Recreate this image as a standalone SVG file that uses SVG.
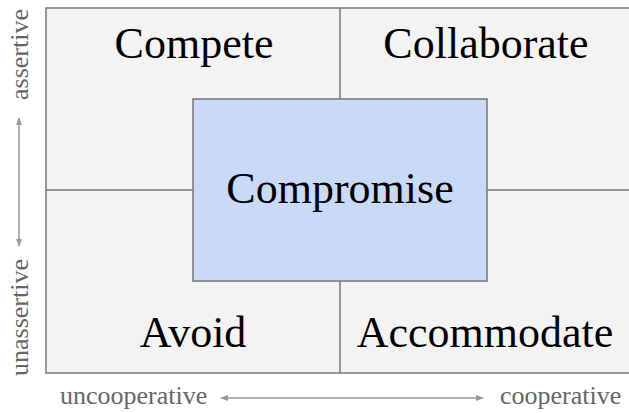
<svg xmlns="http://www.w3.org/2000/svg" width="629" height="413" viewBox="0 0 629 413">
<style>
.main{font-family:"Liberation Serif","Times New Roman",serif;font-size:44px;fill:#000;text-anchor:middle}
.lbl{font-family:"Liberation Serif","Times New Roman",serif;font-size:26px;fill:#666}
.line{stroke:#777;stroke-width:1.5;fill:none}
.bg{stroke:#777;stroke-width:1.5;fill:#f3f3f3}
.box{stroke:#777;stroke-width:1.5;fill:#c9daf8}
.arr{stroke:#999;stroke-width:1.5;fill:none}
</style>
<defs>
<marker id="ah" viewBox="0 0 10 10" refX="9" refY="5" markerWidth="8" markerHeight="6" markerUnits="userSpaceOnUse" orient="auto-start-reverse" preserveAspectRatio="none">
<path d="M0,0 L10,5 L0,10 z" fill="#999"/>
</marker>
</defs>
<rect width="629" height="413" fill="#fff"/>
<g id="grid">
<rect x="46" y="8" width="590" height="365" class="bg"/>
</g>
<g id="connectors">
<line class="line" x1="340" y1="8" x2="340" y2="99"/>
<line class="line" x1="340" y1="281" x2="340" y2="373"/>
<line class="line" x1="46" y1="190" x2="193" y2="190"/>
<line class="line" x1="487" y1="190" x2="636" y2="190"/>
<line class="arr" x1="19" y1="118" x2="19" y2="246" marker-start="url(#ah)" marker-end="url(#ah)"/>
<line class="arr" x1="221" y1="398" x2="483" y2="398" marker-start="url(#ah)" marker-end="url(#ah)"/>
</g>
<g id="compete"><text class="main" x="194" y="58">Compete</text></g>
<g id="collaborate"><text class="main" x="486" y="58">Collaborate</text></g>
<g id="avoid"><text class="main" x="193" y="347">Avoid</text></g>
<g id="accommodate"><text class="main" x="485" y="347">Accommodate</text></g>
<g id="compromise">
<rect x="193" y="99" width="294" height="182" class="box"/>
<text class="main" x="340" y="203">Compromise</text>
</g>
<g id="labels">
<text class="lbl" transform="translate(28,100) rotate(-90)">assertive</text>
<text class="lbl" transform="translate(28,376) rotate(-90)">unassertive</text>
<text class="lbl" x="60" y="404">uncooperative</text>
<text class="lbl" x="500" y="404">cooperative</text>
</g>
</svg>
